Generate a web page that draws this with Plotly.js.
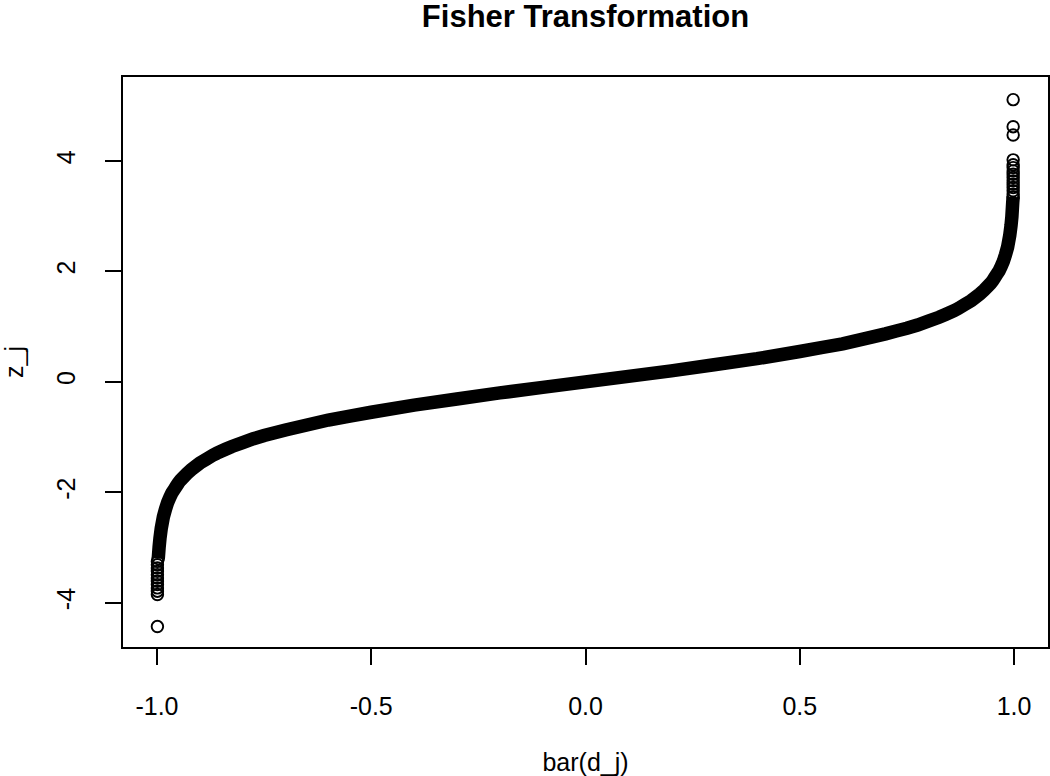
<!DOCTYPE html>
<html>
<head>
<meta charset="utf-8">
<script src="https://cdn.plot.ly/plotly-3.0.1.min.js"></script>
<style>
  html, body { margin: 0; padding: 0; background: #ffffff; }
  #chart { width: 1050px; height: 776px; }
</style>
</head>
<body>
<div id="chart"></div>
<script>
// Values
var bandX = [-0.997, -0.995, -0.993, -0.99, -0.985, -0.98, -0.975, -0.97, -0.965, -0.96, -0.955, -0.95, -0.945, -0.94, -0.93, -0.92, -0.91, -0.9, -0.885, -0.87, -0.86, -0.84, -0.825, -0.8, -0.775, -0.75, -0.725, -0.7, -0.65, -0.6, -0.55, -0.5, -0.4, -0.3, -0.2, -0.1, 0,
             0.1, 0.2, 0.3, 0.4, 0.5, 0.55, 0.6, 0.65, 0.7, 0.725, 0.75, 0.775, 0.8, 0.825, 0.84, 0.86, 0.87, 0.885, 0.9, 0.91, 0.92, 0.93, 0.94, 0.945, 0.95, 0.955, 0.96, 0.965, 0.97, 0.975, 0.98, 0.985, 0.99, 0.993, 0.995, 0.997, 0.998];
var bandY = [-3.2, -2.99, -2.83, -2.65, -2.44, -2.30, -2.18, -2.09, -2.01, -1.95, -1.89, -1.83, -1.78, -1.74, -1.66, -1.59, -1.53, -1.47, -1.40, -1.33, -1.29, -1.22, -1.17, -1.10, -1.03, -0.97, -0.92, -0.87, -0.78, -0.69, -0.62, -0.55, -0.42, -0.31, -0.20, -0.10, 0,
             0.10, 0.20, 0.31, 0.42, 0.55, 0.62, 0.69, 0.78, 0.87, 0.92, 0.97, 1.03, 1.10, 1.17, 1.22, 1.29, 1.33, 1.40, 1.47, 1.53, 1.59, 1.66, 1.74, 1.78, 1.83, 1.89, 1.95, 2.01, 2.09, 2.18, 2.30, 2.44, 2.65, 2.83, 2.99, 3.25, 3.35];

var topTailX = [0.998, 0.998, 0.998, 0.998, 0.998, 0.998, 0.998, 0.998, 0.998, 0.998, 0.998, 0.998, 0.998, 0.998, 0.998];
var topTailY = [3.35, 3.40, 3.46, 3.52, 3.58, 3.64, 3.70, 3.76, 3.82, 3.88, 3.93, 4.02, 4.47, 4.62, 5.11];

var lowTailX = [-0.997, -0.999, -0.999, -0.999, -0.999, -0.999, -0.999, -0.999, -0.999, -0.999, -0.999, -0.999, -0.999];
var lowTailY = [-3.20, -3.25, -3.31, -3.37, -3.43, -3.49, -3.55, -3.61, -3.67, -3.73, -3.79, -3.85, -4.43];

var xTicks = [-1, -0.5, 0, 0.5, 1];
var xTickText = ['-1.0', '-0.5', '0.0', '0.5', '1.0'];
var yTicks = [-4, -2, 0, 2, 4];
var yTickText = ['-4', '-2', '0', '2', '4'];

var FONT = 'Liberation Sans, Arial, Helvetica, sans-serif';
var ringMarker = { symbol: 'circle-open', size: 11.5, color: '#000000', line: { width: 1.9, color: '#000000' } };

var traces = [
  {
    x: bandX, y: bandY, type: 'scatter', mode: 'lines',
    line: { color: '#000000', width: 13.5, simplify: false },
    hoverinfo: 'x+y', showlegend: false
  },
  {
    x: topTailX, y: topTailY, type: 'scatter', mode: 'markers',
    marker: ringMarker, hoverinfo: 'x+y', showlegend: false
  },
  {
    x: lowTailX, y: lowTailY, type: 'scatter', mode: 'markers',
    marker: ringMarker, hoverinfo: 'x+y', showlegend: false
  }
];

var axisCommon = {
  showgrid: false, zeroline: false,
  showline: true, linecolor: '#000000', linewidth: 2, mirror: true,
  ticks: 'outside', ticklen: 16, tickwidth: 2, tickcolor: '#000000',
  tickfont: { family: FONT, size: 25, color: '#000000' },
  tickmode: 'array'
};

var layout = {
  width: 1050, height: 776,
  paper_bgcolor: '#ffffff', plot_bgcolor: '#ffffff',
  margin: { l: 123, r: 2, t: 77, b: 129, pad: 0 },
  font: { family: FONT, color: '#000000' },
  title: {
    text: 'Fisher Transformation',
    font: { family: FONT, size: 31, weight: 'bold', color: '#000000' },
    xref: 'paper', x: 0.5, xanchor: 'center',
    yref: 'container', y: 0.979, yanchor: 'middle'
  },
  xaxis: Object.assign({}, axisCommon, {
    range: [-1.0793, 1.0793],
    tickvals: xTicks, ticktext: xTickText,
    ticklabelstandoff: 20,
    title: { text: 'bar(d_j)', font: { family: FONT, size: 25, color: '#000000' }, standoff: 40 }
  }),
  yaxis: Object.assign({}, axisCommon, {
    range: [-4.80, 5.52],
    tickvals: yTicks, ticktext: yTickText,
    tickangle: -90,
    ticklabelstandoff: 20,
    title: { text: 'z_j', font: { family: FONT, size: 25, color: '#000000' }, standoff: 34 }
  })
};

Plotly.newPlot('chart', traces, layout, { displayModeBar: false, staticPlot: true });
</script>
</body>
</html>
